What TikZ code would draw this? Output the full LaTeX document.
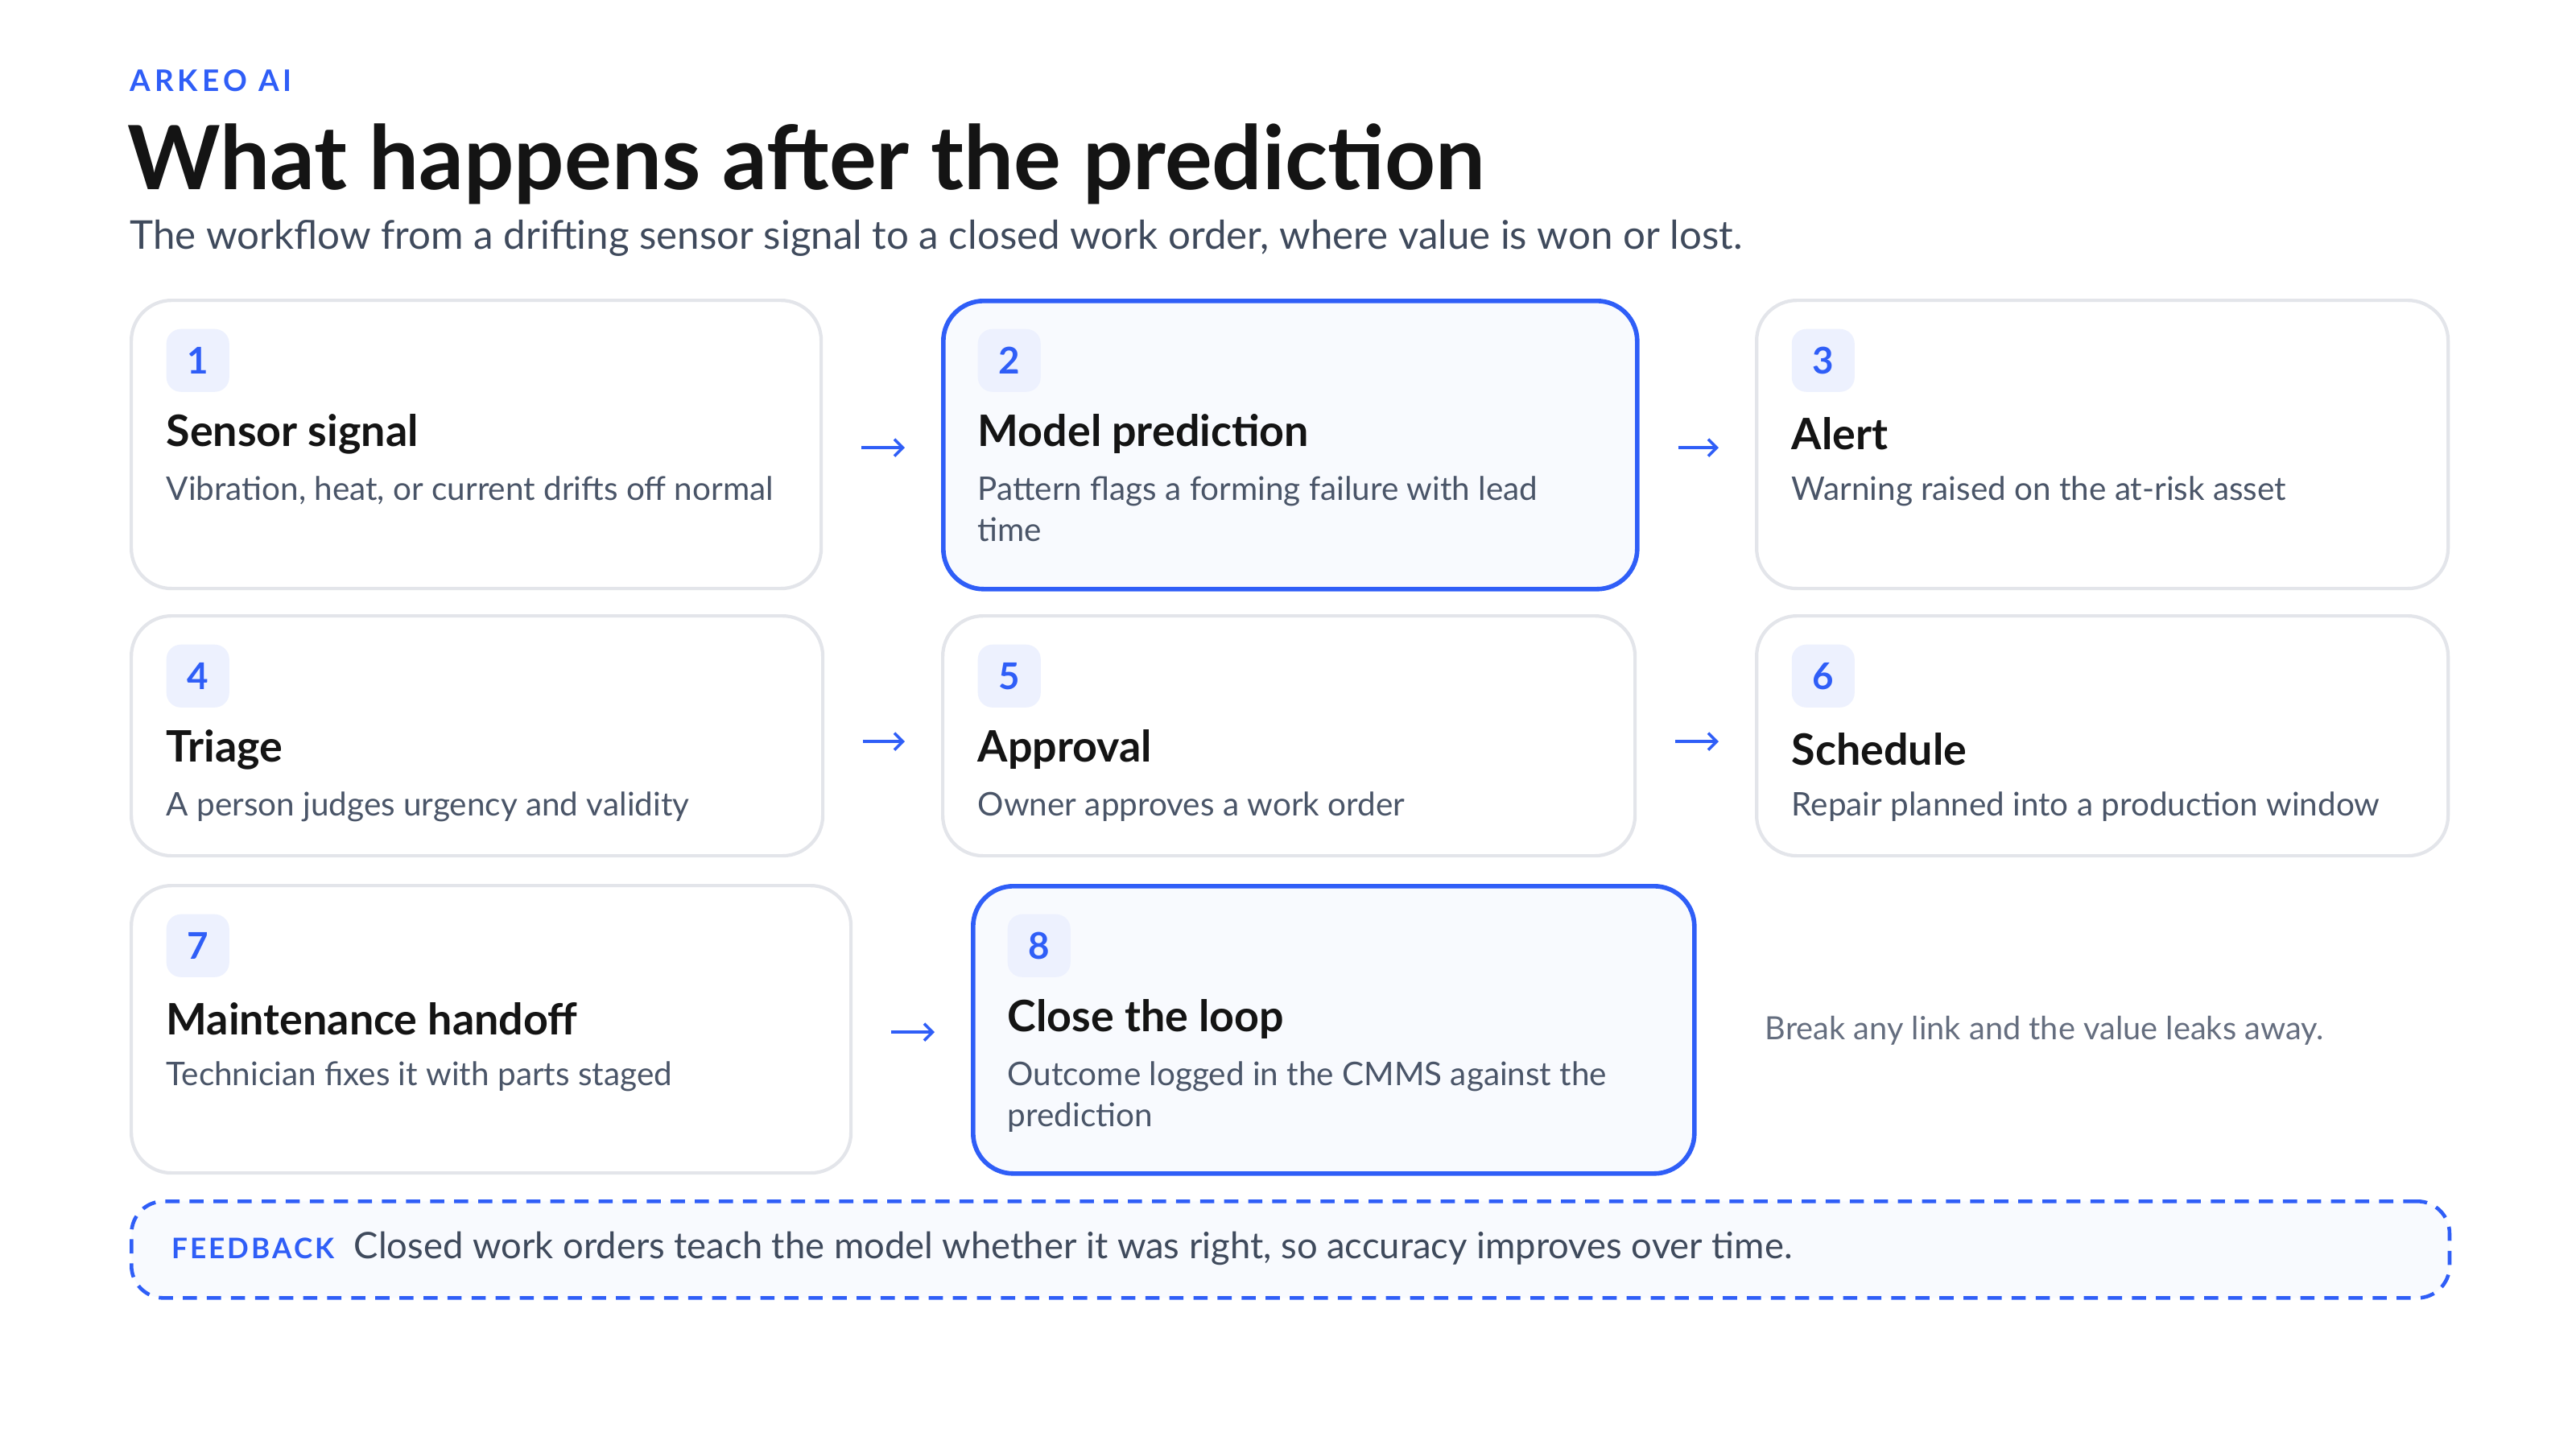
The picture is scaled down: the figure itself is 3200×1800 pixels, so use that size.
\documentclass[tikz,border=0pt]{standalone}
\usepackage{fontspec}
\setmainfont{Lato}
\definecolor{blu}{HTML}{2F5EF7}
\definecolor{bord}{HTML}{E3E5EA}
\definecolor{badge}{HTML}{EDF1FE}
\definecolor{hl}{HTML}{F8FAFE}
\definecolor{desc}{HTML}{4A5568}
\definecolor{ink}{HTML}{141414}
\definecolor{sub}{HTML}{3F4A5C}
\usetikzlibrary{arrows.meta}
\tikzset{
 card/.style={draw=bord,line width=1.2pt,rounded corners=0.5cm,fill=white,anchor=north west,inner sep=0},
 hicard/.style={card,draw=blu,line width=1.6pt,fill=hl},
 badgebox/.style={fill=badge,rounded corners=0.18cm,minimum width=0.78cm,minimum height=0.78cm,anchor=north west,inner sep=0,text=blu,font=\fontsize{13}{15}\selectfont\bfseries},
 head/.style={anchor=west,inner sep=0,text=ink,font=\fontsize{15.3}{17}\selectfont\bfseries},
 dsc/.style={anchor=north west,inner sep=0,text=desc,align=left,font=\fontsize{11.5}{14.5}\selectfont},
 arr/.style={-{Straight Barb[length=3pt,width=6pt]},blu,line width=1pt}
}
\begin{document}
\begin{tikzpicture}[x=0.01cm,y=-0.01cm]
\path[use as bounding box] (0,0) rectangle (3200,1800);
\node[anchor=west,inner sep=0,text=blu,font=\fontsize{10.5}{12}\selectfont\bfseries] (brand) at (161,100) {A\kern1.4pt R\kern1.4pt K\kern1.4pt E\kern1.4pt O\ \kern1.4pt A\kern1.4pt I};
\node[anchor=west,inner sep=0,text=ink,font=\fontsize{31.3}{34}\selectfont\bfseries] (title) at (158,204) {What happens after the prediction};
\node[anchor=west,inner sep=0,text=sub,font=\fontsize{14}{16}\selectfont] (subt) at (161,296) {The workflow from a drifting sensor signal to a closed work order, where value is won or lost.};
\foreach \n/\sty/\x/\y/\w/\h/\num/\hd/\ds in {
 c1/card/161/371/857/358/1/Sensor signal/{Vibration, heat, or current drifts off normal},
 c2/hicard/1169/371/862/358/2/Model prediction/{Pattern flags a forming failure with lead\\time},
 c3/card/2180/371/859/358/3/Alert/{Warning raised on the at-risk asset},
 c4/card/161/763/859/298/4/Triage/{A person judges urgency and validity},
 c5/card/1169/763/860/298/5/Approval/{Owner approves a work order},
 c6/card/2180/763/859/298/6/Schedule/{Repair planned into a production window},
 c7/card/161/1098/894/357/7/Maintenance handoff/{Technician fixes it with parts staged},
 c8/hicard/1206/1098/896/357/8/Close the loop/{Outcome logged in the CMMS against the\\prediction}}{
 \node[\sty,minimum width=\w*0.01cm,minimum height=\h*0.01cm] (\n) at (\x,\y) {};
 \node[badgebox] (\n b) at ([xshift=0.45cm,yshift=-0.37cm]\n.north west) {\num};
 \node[head] (\n h) at ([xshift=0.45cm,yshift=-1.68cm]\n.north west) {\hd};
 \node[dsc] (\n d) at ([xshift=0.45cm,yshift=-2.2cm]\n.north west) {\ds};
}
\draw[arr] ([xshift=0.48cm,yshift=-1.85cm]c1.north east) -- ([xshift=-0.45cm,yshift=-1.85cm]c2.north west);
\draw[arr] ([xshift=0.48cm,yshift=-1.85cm]c2.north east) -- ([xshift=-0.45cm,yshift=-1.85cm]c3.north west);
\draw[arr] ([xshift=0.48cm,yshift=-1.58cm]c4.north east) -- ([xshift=-0.45cm,yshift=-1.58cm]c5.north west);
\draw[arr] ([xshift=0.48cm,yshift=-1.58cm]c5.north east) -- ([xshift=-0.45cm,yshift=-1.58cm]c6.north west);
\draw[arr] ([xshift=0.48cm,yshift=-1.84cm]c7.north east) -- ([xshift=-0.45cm,yshift=-1.84cm]c8.north west);
\node[anchor=west,inner sep=0,text=desc!85,font=\fontsize{11.3}{13}\selectfont] (note) at (2192,1280) {Break any link and the value leaks away.};
\node[draw=blu,dash pattern=on 5pt off 3.5pt,line width=1.3pt,rounded corners=0.4cm,fill=hl,minimum width=28.78cm,minimum height=1.2cm,anchor=north west] (fb) at (161,1490) {};
\node[anchor=west,inner sep=0,text=blu,font=\fontsize{10}{12}\selectfont\bfseries] (fbl) at (213,1551) {F\kern0.8pt E\kern0.8pt E\kern0.8pt D\kern0.8pt B\kern0.8pt A\kern0.8pt C\kern0.8pt K};
\node[anchor=west,inner sep=0,text=sub,font=\fontsize{12.9}{14}\selectfont] (fbt) at (439,1551) {Closed work orders teach the model whether it was right, so accuracy improves over time.};
\end{tikzpicture}
\end{document}
